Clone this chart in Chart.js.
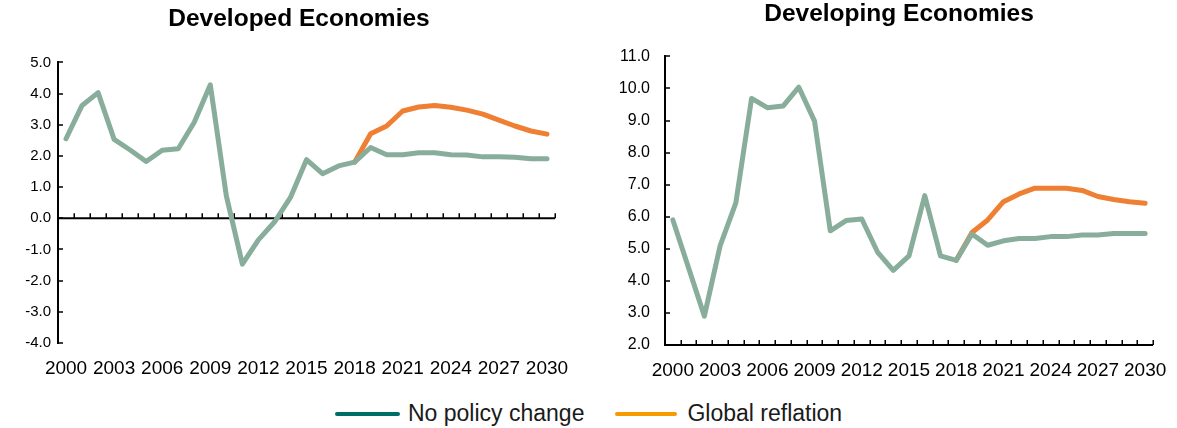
<!DOCTYPE html>
<html>
<head>
<meta charset="utf-8">
<script src="https://cdn.jsdelivr.net/npm/chart.js@4.4.1/dist/chart.umd.min.js"></script>
<style>
  html, body { margin: 0; padding: 0; background: #fff; }
  body { width: 1177px; height: 428px; position: relative; overflow: hidden; font-family: "Liberation Sans", Arial, sans-serif; }
  .box { position: absolute; }
  #legend { position: absolute; left: 335px; top: 400px; height: 27px; display: flex; align-items: center; font-size: 23px; color: #1a1a1a; white-space: nowrap; }
  .sw { height: 4px; border-radius: 2px; display: inline-block; }
</style>
</head>
<body>
<div class="box" style="left:0px;top:0px;width:590px;height:390px;"><canvas id="c1"></canvas></div>
<div class="box" style="left:590px;top:0px;width:603px;height:390px;"><canvas id="c2"></canvas></div>
<div id="legend">
  <span class="sw" style="width:65px;background:#006e68;margin-right:8px;"></span><span>No policy change</span>
  <span class="sw" style="width:62px;background:#f79a00;margin-left:31px;margin-right:10px;"></span><span>Global reflation</span>
</div>
<script>
const years = ['2000','2001','2002','2003','2004','2005','2006','2007','2008','2009','2010','2011','2012','2013','2014','2015','2016','2017','2018','2019','2020','2021','2022','2023','2024','2025','2026','2027','2028','2029','2030'];
const xTickLabels = ['2000','2003','2006','2009','2012','2015','2018','2021','2024','2027','2030'];
const seriesNames = ['No policy change', 'Global reflation'];

const developedNoPolicy = [2.55,3.62,4.03,2.53,2.19,1.82,2.18,2.23,3.08,4.28,0.72,-1.47,-0.69,-0.12,0.67,1.88,1.43,1.68,1.80,2.27,2.04,2.04,2.10,2.10,2.04,2.03,1.97,1.97,1.96,1.91,1.91];
const developedReflation = [null,null,null,null,null,null,null,null,null,null,null,null,null,null,null,null,null,null,1.80,2.71,2.96,3.44,3.57,3.62,3.56,3.47,3.34,3.15,2.96,2.80,2.70];

const developingNoPolicy = [5.90,4.40,2.90,5.09,6.43,9.69,9.40,9.45,10.04,8.98,5.56,5.88,5.93,4.90,4.33,4.78,6.66,4.78,4.64,5.46,5.11,5.25,5.32,5.32,5.38,5.38,5.43,5.43,5.48,5.48,5.48];
const developingReflation = [null,null,null,null,null,null,null,null,null,null,null,null,null,null,null,null,null,null,4.64,5.51,5.90,6.47,6.71,6.89,6.89,6.89,6.82,6.63,6.54,6.47,6.42];

const devYTicks = [-4,-3,-2,-1,0,1,2,3,4,5];
const dvgYTicks = [2,3,4,5,6,7,8,9,10,11];

Chart.defaults.font.family = '"Liberation Sans", Arial, sans-serif';
Chart.defaults.color = '#000';

const crossAxis = {
  id: 'crossAxis',
  beforeDatasetsDraw(chart, args, opts) {
    const {ctx, chartArea, scales: {x, y}} = chart;
    const y0 = y.getPixelForValue(opts.crossAt);
    ctx.save();
    ctx.strokeStyle = '#000';
    ctx.lineWidth = 2;
    ctx.beginPath();
    ctx.moveTo(chartArea.left, y0);
    ctx.lineTo(chartArea.right, y0);
    ctx.stroke();
    ctx.lineWidth = 1.5;
    const n = x.getLabels().length;
    ctx.beginPath();
    for (let i = 0; i <= n; i++) {
      const px = Math.round(x.getPixelForValue(i - 0.5)) + 0.25;
      ctx.moveTo(px, y0);
      ctx.lineTo(px, y0 - 5);
    }
    ctx.stroke();
    ctx.beginPath();
    y.ticks.forEach(t => {
      const py = Math.round(y.getPixelForValue(t.value));
      ctx.moveTo(chartArea.left, py);
      ctx.lineTo(chartArea.left + 5, py);
    });
    ctx.stroke();
    ctx.restore();
  }
};

function makeChart(id, title, titlePad, noPolicy, reflation, yMin, yMax, yTicks, crossAt, pad, yAxisWidth, yLabelPad, xLabelPad, rightSpacer, yFont) {
  return new Chart(document.getElementById(id), {
    type: 'line',
    data: {
      labels: years,
      datasets: [
        { label: seriesNames[0], data: noPolicy, borderColor: '#88ad9b', backgroundColor: '#88ad9b', borderWidth: 5, pointRadius: 0, tension: 0, borderJoinStyle: 'round', borderCapStyle: 'round' },
        { label: seriesNames[1], data: reflation, borderColor: '#ee7f33', backgroundColor: '#ee7f33', borderWidth: 5, pointRadius: 0, tension: 0, borderJoinStyle: 'round', borderCapStyle: 'round', spanGaps: false }
      ]
    },
    options: {
      responsive: true,
      maintainAspectRatio: false,
      animation: false,
      layout: { padding: pad },
      plugins: {
        legend: { display: false },
        tooltip: { enabled: false },
        title: { display: true, text: title, font: { size: 24.5, weight: 'bold' }, color: '#000', padding: titlePad },
        crossAxis: { crossAt: crossAt }
      },
      scales: {
        x: {
          type: 'category',
          offset: true,
          grid: { display: false, drawTicks: false },
          border: { display: false },
          ticks: {
            autoSkip: false, maxRotation: 0, minRotation: 0, padding: xLabelPad,
            font: { size: 19 }, color: '#000',
            callback: function(v) { const l = this.getLabelForValue(v); return xTickLabels.includes(l) ? l : ''; }
          },
          afterFit: (s) => { s.height = 40; }
        },
        y: {
          position: 'left',
          min: yMin, max: yMax,
          afterBuildTicks: (s) => { s.ticks = yTicks.map(v => ({ value: v })); },
          grid: { drawOnChartArea: false, drawTicks: false },
          border: { display: true, color: '#000', width: 2 },
          ticks: { padding: yLabelPad, font: { size: yFont }, color: '#000', callback: (v) => Number(v).toFixed(1) },
          afterFit: (s) => { s.width = yAxisWidth; }
        },
        spacer: {
          type: 'linear',
          position: 'right',
          grid: { display: false, drawTicks: false },
          border: { display: false },
          ticks: { display: false },
          afterFit: (s) => { s.width = rightSpacer; }
        }
      }
    },
    plugins: [crossAxis]
  });
}

makeChart('c1', 'Developed Economies', { top: 5, bottom: 28 }, developedNoPolicy, developedReflation, -4, 5, devYTicks, 0,
  { left: 22, right: 14, top: 0, bottom: 7 }, 36, 7, 14, 21, 15);
makeChart('c2', 'Developing Economies', { top: 0, bottom: 27 }, developingNoPolicy, developingReflation, 2, 11, dvgYTicks, 2,
  { left: 15, right: 0, top: 0, bottom: 5 }, 60, 15, 14, 40, 16);
</script>
</body>
</html>
